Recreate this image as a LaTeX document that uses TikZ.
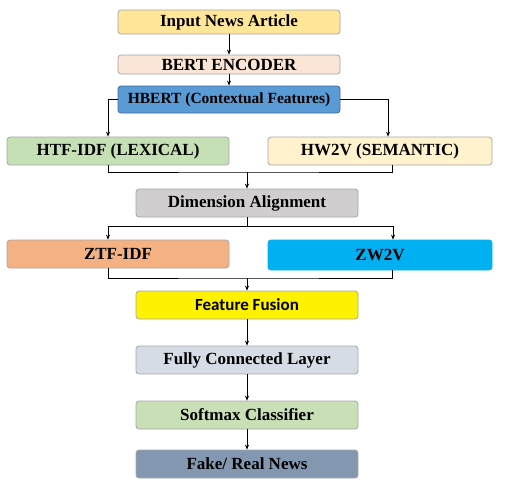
\documentclass[tikz,border=0pt]{standalone}
\usepackage{fontspec}
\setmainfont{Liberation Serif}
\newfontfamily\calibri{Carlito}
\usepackage{tikz}
\usetikzlibrary{arrows.meta,calc}

\definecolor{cinput}{HTML}{FFE699}
\definecolor{cbert}{HTML}{FBE5D6}
\definecolor{chbert}{HTML}{5B9BD5}
\definecolor{clex}{HTML}{C5E0B4}
\definecolor{csem}{HTML}{FFF2CC}
\definecolor{cdim}{HTML}{D0CECE}
\definecolor{cztf}{HTML}{F4B183}
\definecolor{czw}{HTML}{00B0F0}
\definecolor{cfc}{HTML}{D6DCE5}
\definecolor{csoft}{HTML}{C9DFB6}
\definecolor{cout}{HTML}{8497B0}

\begin{document}
\begin{tikzpicture}[x=1pt,y=-1pt]
   \useasboundingbox (0,0) rectangle (508,490);
   \tikzstyle{box}=[rectangle, rounded corners=3pt, draw=black!35, line width=0.8pt,
      minimum width=222pt, minimum height=28pt, inner sep=0pt,
      font=\fontsize{17}{19}\selectfont\bfseries]
   \tikzstyle{arr}=[-{Stealth[length=5pt,width=4pt]}, line width=0.7pt]
   \tikzstyle{lin}=[line width=0.7pt]
   % encoder part
   \node[box, fill=cinput, minimum height=24pt] (input) at (229,22) {Input News Article};
   \node[box, fill=cbert, minimum height=19pt] (bert) at (229,64.5) {BERT ENCODER};
   \node[box, fill=chbert, draw=chbert!70!black, minimum height=27pt,
         font=\fontsize{15.5}{18}\selectfont\bfseries] (hbert) at (229,99.5) {HBERT (Contextual Features)};
   \draw[arr] (input) -- (bert);
   \draw[arr] (bert) -- (hbert);
   % two feature branches
   \node[box, fill=clex] (htf) at (118,151) {HTF-IDF (LEXICAL)};
   \node[box, fill=csem, minimum width=224pt] (hw2v) at (380,151) {HW2V (SEMANTIC)};
   \draw[arr] (hbert.west) -| ([xshift=-10pt]htf.north);
   \draw[arr] (hbert.east) -| ([xshift=8pt]hw2v.north);
   \coordinate (m1) at (247,172);
   \draw[lin] ([xshift=-10pt]htf.south) |- (m1) -| ([xshift=12pt]hw2v.south);
   \node[box, fill=cdim] (dim) at (247,203) {Dimension Alignment};
   \draw[arr] (m1) -- (dim);
   % aligned features
   \coordinate (s1) at (247,226);
   \node[box, fill=cztf] (ztf) at (118,254) {ZTF-IDF};
   \node[box, fill=czw, draw=czw, minimum width=224pt, minimum height=30pt] (zw2v) at (380,255) {ZW2V};
   \draw[lin] (dim) -- (s1);
   \draw[arr] (s1) -| ([xshift=-10pt]ztf.north);
   \draw[arr] (s1) -| ([xshift=13pt]zw2v.north);
   \coordinate (m2) at (247,278);
   \draw[lin] ([xshift=-10pt]ztf.south) |- (m2) -| ([xshift=12pt]zw2v.south);
   % classifier
   \node[box, fill=yellow, font=\fontsize{17}{19}\calibri\bfseries] (fusion) at (247,305) {Feature Fusion};
   \node[box, fill=cfc] (fc) at (247,360) {Fully Connected Layer};
   \node[box, fill=csoft] (soft) at (247,415) {Softmax Classifier};
   \node[box, fill=cout] (out) at (247,464) {Fake/ Real News};
   \draw[arr] (m2) -- (fusion);
   \foreach \a/\b in {fusion/fc,fc/soft,soft/out}
      \draw[arr] (\a) -- (\b);
\end{tikzpicture}
\end{document}
